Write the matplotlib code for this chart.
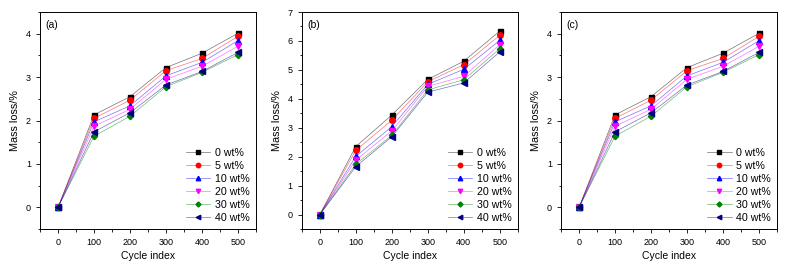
import matplotlib
matplotlib.use("Agg")
import matplotlib.pyplot as plt
from matplotlib.ticker import MultipleLocator

plt.rcParams['font.family'] = ['Liberation Sans', 'DejaVu Sans']

cycles = [0, 100, 200, 300, 400, 500]
labels = ['0 wt%', '5 wt%', '10 wt%', '20 wt%', '30 wt%', '40 wt%']

# panel (a) and (c) share the same data
loss_a = [
    [0, 2.13, 2.55, 3.22, 3.55, 4.01],
    [0, 2.05, 2.47, 3.15, 3.43, 3.94],
    [0, 1.97, 2.34, 3.03, 3.34, 3.84],
    [0, 1.87, 2.26, 2.95, 3.25, 3.71],
    [0, 1.64, 2.10, 2.78, 3.11, 3.52],
    [0, 1.74, 2.18, 2.82, 3.13, 3.57],
]
loss_b = [
    [0, 2.35, 3.44, 4.67, 5.30, 6.34],
    [0, 2.22, 3.26, 4.59, 5.18, 6.19],
    [0, 2.01, 3.04, 4.50, 5.02, 6.02],
    [0, 1.88, 2.89, 4.43, 4.78, 5.87],
    [0, 1.74, 2.74, 4.31, 4.66, 5.73],
    [0, 1.66, 2.69, 4.23, 4.55, 5.62],
]
loss_c = loss_a

colors = ['black', 'red', 'blue', 'magenta', 'green', 'navy']
markers = ['s', 'o', '^', 'v', 'D', '<']
msizes = [3.6, 4.0, 4.0, 4.0, 3.2, 4.0]

fig = plt.figure(figsize=(7.88, 2.67), dpi=100)
lefts = [0.0508, 0.383, 0.712]
panels = [('(a)', loss_a, 4.5), ('(b)', loss_b, 7), ('(c)', loss_c, 4.5)]

for left, (tag, data, ytop) in zip(lefts, panels):
    ax = fig.add_axes([left, 0.142, 0.274, 0.813])
    handles = []
    for i, vals in enumerate(data):
        ln, = ax.plot(cycles, vals, color=colors[i], lw=0.5, alpha=0.55)
        mk, = ax.plot(cycles, vals, color=colors[i], marker=markers[i], ms=msizes[i],
                      ls='none')
        handles.append((ln, mk))
    ax.set_xlim(-50, 550)
    ax.set_ylim(-0.5, ytop)
    ax.xaxis.set_major_locator(MultipleLocator(100))
    ax.xaxis.set_minor_locator(MultipleLocator(50))
    ax.yaxis.set_major_locator(MultipleLocator(1))
    ax.yaxis.set_minor_locator(MultipleLocator(0.5))
    ax.tick_params(which='major', direction='out', length=3, width=0.6, labelsize=6.5)
    ax.tick_params(which='minor', direction='out', length=1.8, width=0.6)
    for s in ax.spines.values():
        s.set_linewidth(0.7)
    ax.set_xlabel('Cycle index', fontsize=7.5, labelpad=3)
    ax.set_ylabel('Mass loss/%', fontsize=7.8, labelpad=4)
    ax.text(0.025, 0.965, tag, transform=ax.transAxes, fontsize=7.5, va='top', ha='left')
    ax.legend(handles, labels, loc='lower right', frameon=False, fontsize=7.7,
              handlelength=2.3, labelspacing=0.28, borderaxespad=0.2,
              handletextpad=0.4, markerscale=0.8)

fig.savefig('out.png', dpi=100)
